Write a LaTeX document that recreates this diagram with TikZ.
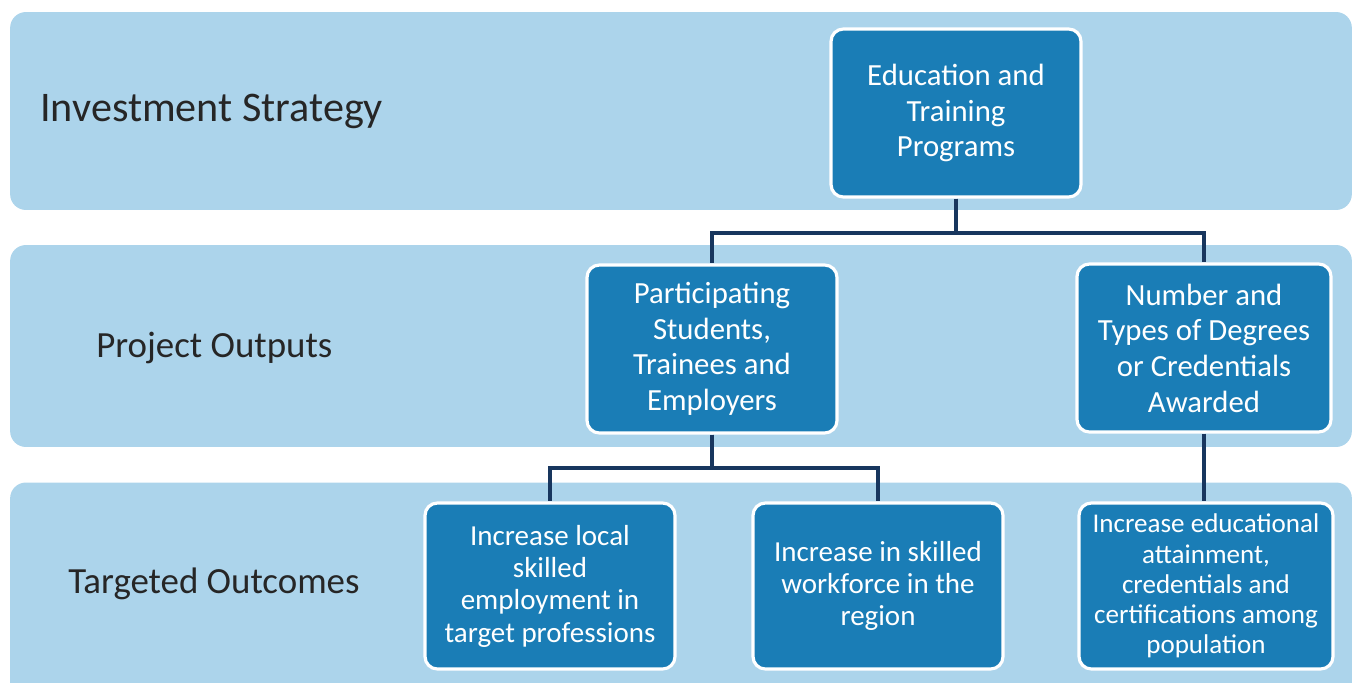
\documentclass[tikz,border=0pt]{standalone}
\usepackage{fontspec}
\setmainfont{Carlito}
\usetikzlibrary{positioning}
\definecolor{bandblue}{RGB}{172,212,235}
\definecolor{boxblue}{RGB}{26,125,182}
\definecolor{linknavy}{RGB}{24,54,94}

\begin{document}
\begin{tikzpicture}[
    x=0.02cm, y=-0.02cm,
    band/.style={rectangle, fill=bandblue, rounded corners=9pt, minimum width=26.84cm, inner sep=0pt},
    tier/.style={anchor=west, inner sep=0pt, text=black!85, font=\fontsize{21}{25}\selectfont},
    box/.style={rectangle, draw=white, fill=boxblue, rounded corners=7pt, line width=1.8pt, text=white, align=center, minimum width=5cm, minimum height=3.36cm, inner sep=0pt, font=\fontsize{17.5}{20.3}\selectfont},
    outcome/.style={box, minimum height=3.32cm, font=\fontsize{16.5}{18.4}\selectfont},
    link/.style={draw=linknavy, line width=2.3pt}
]
\clip (0,0) rectangle (1356,683);

% Bands
\node[band, minimum height=3.96cm] (bandstrategy) at (681,111) {};
\node[band, minimum height=4.04cm] (bandoutputs) at (681,346) {};
\node[band, minimum height=4.3cm] (bandoutcomes) at (681,590) {};

\node[tier, font=\fontsize{24}{28}\selectfont] (strategy) at (40,111) {Investment Strategy};
\node[tier] (outputs) at (96,348) {Project Outputs};
\node[tier] (outcomes) at (68,584) {Targeted Outcomes};

% Nodes
\node[box] (edu) at (956,113) {Education and\\Training\\Programs};
\node[box] (part) at (712,349) {Participating\\Students,\\Trainees and\\Employers};
\node[box, minimum width=5.08cm] (num) at (1204,348) {Number and\\Types of Degrees\\or Credentials\\Awarded};
\node[outcome] (local) at (550,586) {Increase local\\skilled\\employment in\\target professions};
\node[outcome] (skilled) at (878,586) {Increase in skilled\\workforce in the\\region};
\node[outcome, minimum width=5.08cm, font=\fontsize{15.4}{17.2}\selectfont] (attain) at (1206,586) {Increase educational\\attainment,\\credentials and\\certifications among\\population};

% Paths
\draw[link] (edu.south) -- ++(0,34) -| (part.north);
\draw[link] (edu.south) -- ++(0,34) -| (num.north);
\draw[link] (part.south) -- ++(0,33) -| (local.north);
\draw[link] (part.south) -- ++(0,33) -| (skilled.north);
\draw[link] (num.south) -- (num.south |- attain.north);

\end{tikzpicture}
\end{document}
